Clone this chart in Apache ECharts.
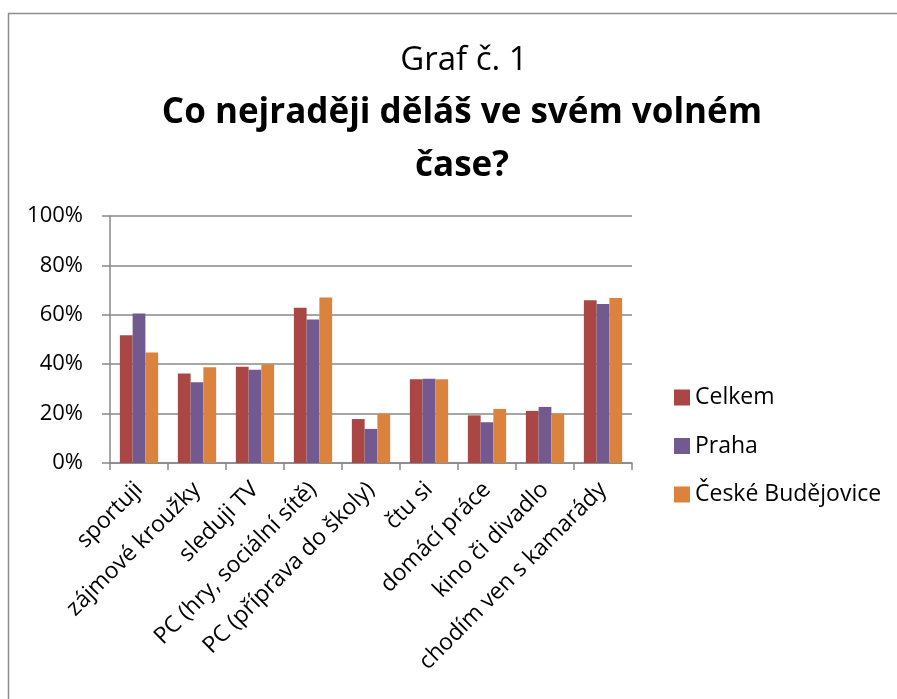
<!DOCTYPE html>
<html>
<head>
<meta charset="utf-8">
<style>
  html, body { margin: 0; padding: 0; background: #fff; }
  #chart { width: 897px; height: 699px; }
</style>
<script src="https://cdn.jsdelivr.net/npm/echarts@6/dist/echarts.min.js"></script>
</head>
<body>
<div id="chart"></div>
<script>
  const CATEGORIES = ['sportuji', 'zájmové kroužky', 'sleduji TV', 'PC (hry, sociální sítě)', 'PC (příprava do školy)', 'čtu si', 'domácí práce', 'kino či divadlo', 'chodím ven s kamarády'];
  const CELKEM = [0.517, 0.362, 0.390, 0.629, 0.178, 0.339, 0.193, 0.211, 0.659];
  const PRAHA = [0.605, 0.327, 0.378, 0.581, 0.138, 0.341, 0.165, 0.227, 0.644];
  const CB = [0.447, 0.388, 0.400, 0.670, 0.200, 0.339, 0.219, 0.200, 0.668];
  const SERIES_NAMES = ['Celkem', 'Praha', 'České Budějovice'];
  const COLORS = ['#aa4644', '#72598f', '#db833c'];
  const FONT = '"Open Sans", "Noto Sans", sans-serif';
  const GRIDC = '#888888';

  const chart = echarts.init(document.getElementById('chart'));

  function bar(name, data, color) {
    return {
      name: name,
      type: 'bar',
      data: data,
      barGap: '0%',
      barCategoryGap: '34%',
      itemStyle: { color: color },
    };
  }

  chart.setOption({
    animation: false,
    backgroundColor: '#fff',
    textStyle: { fontFamily: FONT, color: '#000' },
    title: [
      {
        text: 'Graf č. 1',
        left: 459,
        top: 39,
        textAlign: 'center',
        textStyle: { fontFamily: FONT, fontSize: 33, fontWeight: 'normal', color: '#000' },
      },
      {
        text: 'Co nejraději děláš ve svém volném\nčase?',
        left: 457,
        top: 82,
        textAlign: 'center',
        textStyle: { fontFamily: FONT, fontSize: 35, fontWeight: 'bold', color: '#000', lineHeight: 53 },
      },
    ],
    graphic: [
      {
        type: 'rect',
        shape: { x: 8.5, y: 13.5, width: 950, height: 750 },
        style: { fill: 'none', stroke: '#8c8c8c', lineWidth: 1.5 },
        silent: true,
      },
    ],
    legend: {
      orient: 'vertical',
      left: 669,
      top: 381,
      itemWidth: 16,
      itemHeight: 16,
      itemGap: 25.5,
      icon: 'rect',
      textStyle: { fontFamily: FONT, fontSize: 23, color: '#000' },
      data: SERIES_NAMES,
    },
    grid: { left: 110, right: 265, top: 216, bottom: 236, containLabel: false },
    xAxis: {
      type: 'category',
      data: CATEGORIES,
      boundaryGap: true,
      axisLine: { lineStyle: { color: GRIDC, width: 1.5 } },
      axisTick: { show: true, length: 7, inside: false, lineStyle: { color: GRIDC, width: 1.5 } },
      axisLabel: { rotate: 45, interval: 0, fontFamily: FONT, fontSize: 23, color: '#000', margin: 23 },
    },
    yAxis: {
      type: 'value',
      min: 0,
      max: 1,
      interval: 0.2,
      axisLine: { show: true, lineStyle: { color: GRIDC, width: 1.5 } },
      axisTick: { show: true, length: 8, lineStyle: { color: GRIDC, width: 1.5 } },
      splitLine: { show: true, lineStyle: { color: GRIDC, width: 1.5 } },
      axisLabel: {
        fontFamily: FONT,
        fontSize: 22,
        color: '#000',
        margin: 27,
        formatter: function (v) { return Math.round(v * 100) + '%'; },
      },
    },
    series: [
      bar(SERIES_NAMES[0], CELKEM, COLORS[0]),
      bar(SERIES_NAMES[1], PRAHA, COLORS[1]),
      bar(SERIES_NAMES[2], CB, COLORS[2]),
    ],
  });
</script>
</body>
</html>
